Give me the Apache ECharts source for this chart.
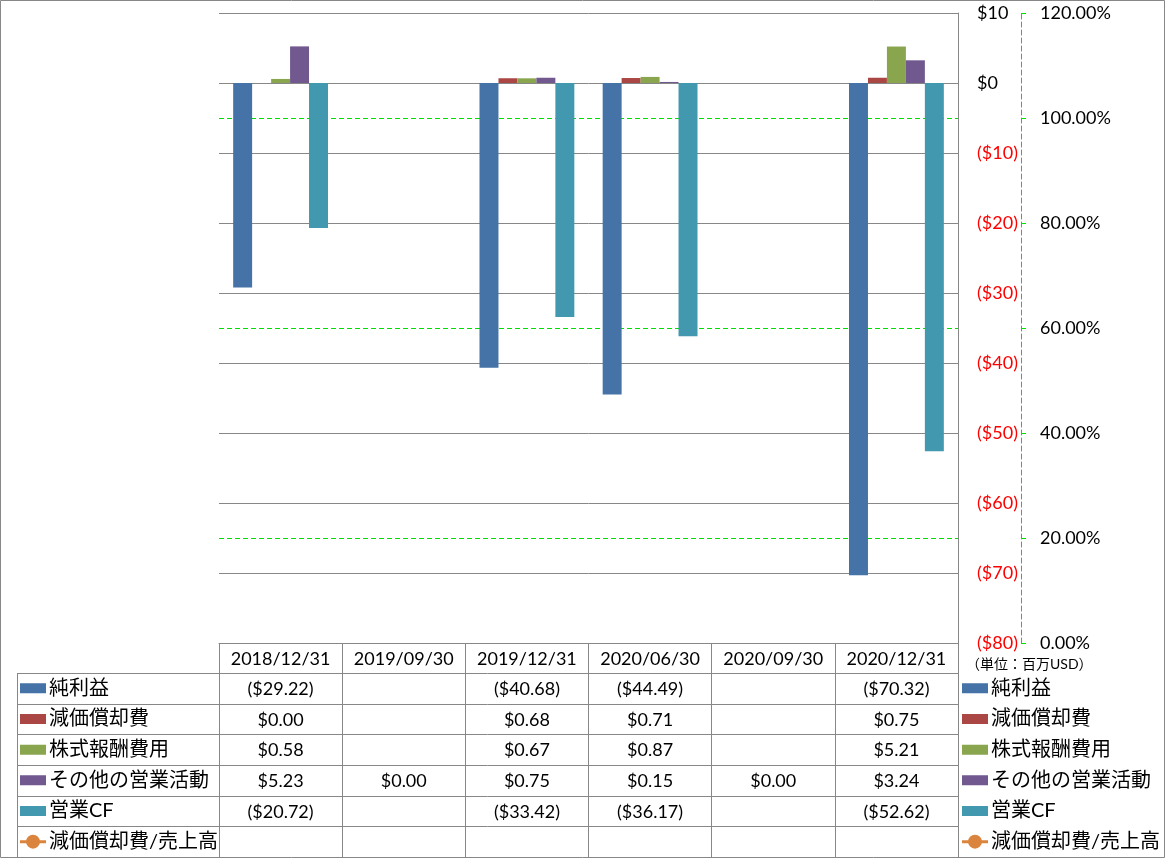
<!DOCTYPE html>
<html><head><meta charset="utf-8">
<script src="https://cdn.jsdelivr.net/npm/echarts@6/dist/echarts.min.js"></script>
<style>html,body{margin:0;padding:0;background:#fff}#c{width:1165px;height:858px}</style>
</head><body><div id="c"></div>
<script>
// ---- data ----
const categories = ['2018/12/31', '2019/09/30', '2019/12/31', '2020/06/30', '2020/09/30', '2020/12/31'];
const netIncome    = [-29.22, null, -40.68, -44.49, null, -70.32];
const depreciation = [0.00, null, 0.68, 0.71, null, 0.75];
const stockComp    = [0.58, null, 0.67, 0.87, null, 5.21];
const otherOps     = [5.23, 0.00, 0.75, 0.15, 0.00, 3.24];
const operatingCF  = [-20.72, null, -33.42, -36.17, null, -52.62];
const depToSales   = [null, null, null, null, null, null];
const seriesNames  = ['純利益', '減価償却費', '株式報酬費用', 'その他の営業活動', '営業CF', '減価償却費/売上高'];
const leftAxisRange  = [-80, 10, 10];   // min, max, interval
const rightAxisRange = [0, 1.2, 0.2];
const rightGuides    = [0.2, 0.6, 1.0];
const unitLabel = '（単位：百万USD）';

// ---- style ----
const colors = ['#4572A7', '#AA4643', '#89A54E', '#71588F', '#4198AF', '#DB843D'];
const FONT = "Lato, 'Noto Sans CJK JP', sans-serif";
const GRAY = '#878787';
const GREEN = '#00E000';
const barValues = [netIncome, depreciation, stockComp, otherOps, operatingCF];
const BAR_ICON = 'path://M0,0h0.05v0.05h-0.05zM0,2h26v10h-26zM25.95,13.95h0.05v0.05h-0.05z';
const LINE_ICON = 'path://M0,5.5h6.5v3h-6.5zM19.5,5.5h6.5v3h-6.5zM6,7a7,7 0 1,1 14,0a7,7 0 1,1 -14,0z';

function money(v) {
  if (v == null) return '';
  if (v < 0) return '($' + (-v).toFixed(2) + ')';
  return '$' + v.toFixed(2);
}
function axisMoney(v) {
  if (v < 0) return '($' + (-v) + ')';
  return '$' + v;
}

const chart = echarts.init(document.getElementById('c'));
const headerH = 30, rowH = (857 - 673) / 6;

const series = barValues.map((d, i) => ({
  name: seriesNames[i], type: 'bar', yAxisIndex: 0, data: d,
  barGap: '0%', barCategoryGap: '23%', z: 3,
  itemStyle: { color: colors[i] }
}));
series.push({
  name: seriesNames[5], type: 'line', yAxisIndex: 1, data: depToSales, z: 1,
  symbol: 'circle', symbolSize: 12,
  itemStyle: { color: colors[5] }, lineStyle: { color: colors[5], width: 4 },
  markLine: {
    silent: true, symbol: 'none', label: { show: false }, z: 1,
    lineStyle: { color: GREEN, type: [5, 3], width: 1 },
    data: rightGuides.map(v => ({ yAxis: v }))
  }
});

const legendData = seriesNames.map((n, i) => ({ name: n, icon: i < 5 ? BAR_ICON : LINE_ICON }));
const legendBase = {
  orient: 'vertical', top: 673, itemGap: 0, itemWidth: 26, itemHeight: 14, padding: 0,
  symbolKeepAspect: false,
  selectedMode: false, data: legendData,
  textStyle: { fontSize: 20, lineHeight: rowH, color: '#000', fontFamily: FONT, padding: [0, 0, 0, -2] }
};

const option = {
  animation: false,
  backgroundColor: '#fff',
  grid: { left: 219, right: 207, top: 13, bottom: 215, containLabel: false },
  legend: [Object.assign({ left: 20 }, legendBase), Object.assign({ left: 962 }, legendBase)],
  xAxis: {
    type: 'category', data: categories, position: 'bottom',
    axisLine: { show: true, onZero: false, lineStyle: { color: GRAY } },
    axisTick: { show: true, length: 214, lineStyle: { color: GRAY } },
    axisLabel: { interval: 0, margin: 7, fontSize: 18, color: '#000', fontFamily: FONT },
    splitLine: { show: false }
  },
  yAxis: [{
    type: 'value', position: 'right',
    min: leftAxisRange[0], max: leftAxisRange[1], interval: leftAxisRange[2],
    axisLine: { show: true, lineStyle: { color: GRAY } },
    axisTick: { show: false },
    splitLine: { show: true, lineStyle: { color: GRAY } },
    axisLabel: {
      margin: 19, fontSize: 18, fontFamily: FONT,
      formatter: axisMoney,
      color: v => (Number(v) < 0 ? '#FF0000' : '#000')
    }
  }, {
    type: 'value', position: 'right', offset: 63,
    min: rightAxisRange[0], max: rightAxisRange[1], interval: rightAxisRange[2],
    axisLine: { show: true, lineStyle: { color: GREEN, type: [5, 3] } },
    axisTick: { show: true, length: 5, lineStyle: { color: GREEN } },
    splitLine: { show: false },
    axisLabel: {
      margin: 19, fontSize: 18, fontFamily: FONT, color: '#000',
      formatter: v => (v * 100).toFixed(2) + '%'
    }
  }],
  series: series
};
chart.setOption(option);

// ---- data table built from the axes ----
const c0 = chart.convertToPixel({ xAxisIndex: 0 }, 0);
const c1 = chart.convertToPixel({ xAxisIndex: 0 }, 1);
const band = c1 - c0;
const xRight = chart.convertToPixel({ xAxisIndex: 0 }, categories.length - 1) + band / 2;
const tableTop = chart.convertToPixel({ yAxisIndex: 0 }, leftAxisRange[0]);
const rowsTop = tableTop + headerH;
const legendLeft = 17;
const g = [];
const lineStyle = { stroke: GRAY, lineWidth: 1 };
for (let k = 0; k < 6; k++) {
  const y = Math.round(rowsTop + k * rowH) + 0.5;
  g.push({ type: 'line', silent: true, z: 50, shape: { x1: legendLeft, y1: y, x2: xRight, y2: y }, style: lineStyle });
}
g.push({ type: 'line', silent: true, z: 50, shape: { x1: legendLeft + 0.5, y1: rowsTop, x2: legendLeft + 0.5, y2: 858 }, style: lineStyle });
const allRows = barValues.concat([depToSales]);
allRows.forEach((row, i) => {
  const y = rowsTop + (i + 0.5) * rowH;
  row.forEach((v, j) => {
    const x = chart.convertToPixel({ xAxisIndex: 0 }, j);
    g.push({ type: 'text', silent: true, z: 50, style: {
      text: money(v), x: x, y: y + 1, align: 'center', verticalAlign: 'middle',
      fontSize: 18, fontFamily: FONT, fill: '#000' } });
  });
});
g.push({ type: 'text', silent: true, z: 50, style: {
  text: unitLabel, x: xRight + 8, y: tableTop + 21, align: 'left', verticalAlign: 'middle',
  fontSize: 14, fontFamily: FONT, fill: '#000' } });
g.push({ type: 'rect', silent: true, z: 100, shape: { x: 0.5, y: 0.5, width: 1164, height: 857 },
  style: { fill: 'none', stroke: GRAY, lineWidth: 1 } });
chart.setOption({ graphic: g });
</script>
</body></html>
